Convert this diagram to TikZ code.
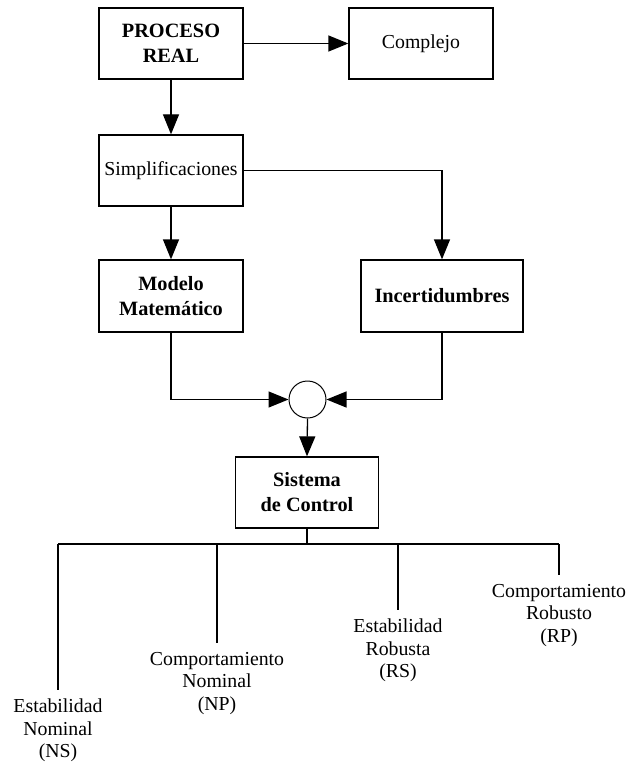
\documentclass[tikz,border=0pt]{standalone}
\usepackage{fontspec}
\setmainfont{Liberation Serif}
\usetikzlibrary{arrows.meta}
\begin{document}
\begin{tikzpicture}[x=1pt,y=-1pt,
  box/.style={draw, line width=1.3pt, fill=white, align=center, inner sep=0pt,
    font=\fontsize{19.8}{25}\selectfont},
  bbox/.style={box, font=\fontsize{20.3}{25}\selectfont\bfseries},
  lbl/.style={anchor=north, align=center, inner xsep=0pt, inner ysep=9pt,
    font=\fontsize{19.8}{22.5}\selectfont},
  wire/.style={line width=1.3pt},
  arr/.style={wire, -{Triangle[length=20pt,width=16pt]}},
]
\useasboundingbox (0,0) rectangle (631,765);

% process chain
\node[bbox, minimum width=144pt, minimum height=71pt] (real) at (171,43.5) {PROCESO\\REAL};
\node[box,  minimum width=144pt, minimum height=71pt] (comp) at (421,43.5) {Complejo};
\node[box,  minimum width=144pt, minimum height=71pt] (simp) at (171,170.5) {Simplificaciones};
\node[bbox, minimum width=144pt, minimum height=72pt] (mod)  at (171,296) {Modelo\\Matemático};
\node[bbox, minimum width=162pt, minimum height=72pt] (inc)  at (442,296) {Incertidumbres};
\node[draw, circle, line width=1pt, minimum size=37pt, inner sep=0pt] (sum) at (307.5,399.5) {};
\node[bbox, minimum width=143pt, minimum height=71pt] (sis)  at (307,492.5) {Sistema\\de Control};

\draw[arr] (real) -- (comp);
\draw[arr] (real) -- (simp);
\draw[arr] (simp) -- (mod);
\draw[arr] (simp.east) -| (inc.north);
\draw[arr] (mod.south) |- (sum.west);
\draw[arr] (inc.south) |- (sum.east);
\draw[arr] (sum.south) -- (sis.north);

% properties of the control system
\node[lbl] (ns) at (58,690)  {Estabilidad\\Nominal\\(NS)};
\node[lbl] (np) at (217,643) {Comportamiento\\Nominal\\(NP)};
\node[lbl] (rs) at (398,610) {Estabilidad\\Robusta\\(RS)};
\node[lbl] (rp) at (559,575) {Comportamiento\\Robusto\\(RP)};

\coordinate (busl) at (58,544);
\coordinate (busr) at (559,544);
\draw[wire] (busl) -- (busr);
\draw[wire] (sis.south) -- (sis.south |- busl);
\foreach \n in {ns,np,rs,rp}
  \draw[wire] (\n.north |- busl) -- (\n.north);
\end{tikzpicture}
\end{document}
